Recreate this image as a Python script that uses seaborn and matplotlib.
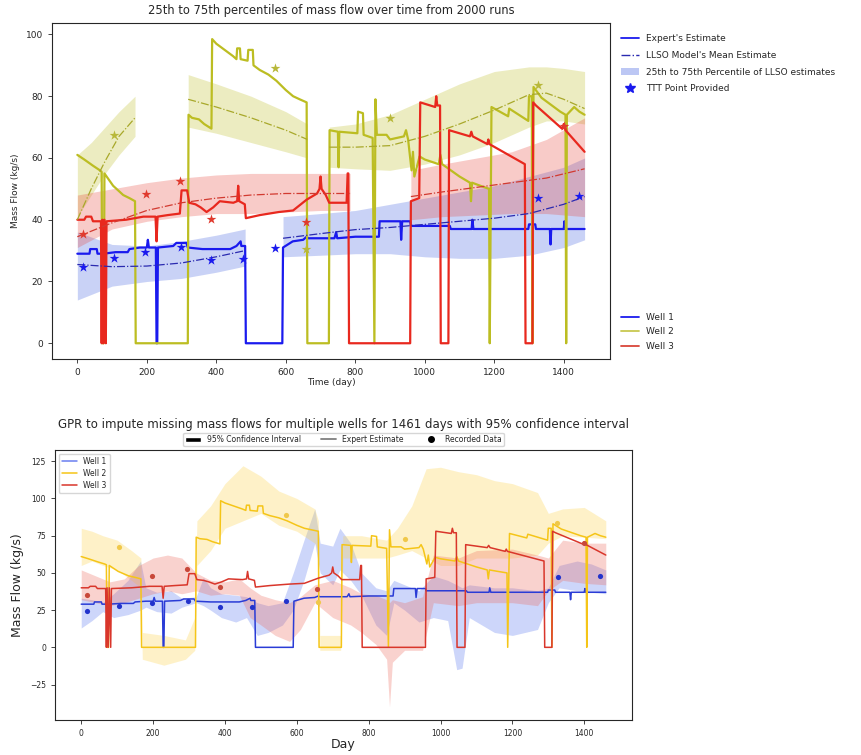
import numpy as np
import pandas as pd
import matplotlib
matplotlib.use("Agg")
import matplotlib.pyplot as plt
import seaborn as sns
from matplotlib.lines import Line2D
from matplotlib.patches import Patch

# --- expert estimate series (day, kg/s) ---
w1_day = [0, 35, 37, 56, 58, 75, 110, 145, 150, 180, 200, 203, 206, 226, 228, 230, 232, 276, 285, 314,
          318, 360, 440, 458, 470, 472, 483, 485, 590, 592, 620, 650, 660, 664, 740, 745, 748, 800, 868,
          870, 930, 932, 935, 958, 960, 1072, 1075, 1135, 1137, 1140, 1298, 1300, 1318, 1320, 1360,
          1362, 1364, 1400, 1402, 1404, 1460]
w1_val = [29, 29, 30.5, 30.5, 29, 29, 29.5, 29.5, 30.5, 31, 31, 33.5, 31, 31, 0, 0, 31, 31.5, 32.5, 32.5,
          31, 30.5, 30.5, 31.5, 33, 31.5, 31.5, 0, 0, 31, 33, 33.5, 34.5, 34, 34, 36, 34, 34.5, 34.5,
          39.5, 39.5, 33.5, 39.5, 39.5, 38, 38, 37, 37, 40, 37, 37, 38.5, 38.5, 37, 37,
          32, 37, 37, 39.5, 37, 37]

w2_day = [0, 20, 45, 65, 70, 72, 76, 78, 103, 132, 150, 166, 168, 318, 320, 330, 350, 365, 386, 388, 400,
          430, 448, 458, 460, 468, 470, 490, 492, 505, 507, 525, 550, 573, 600, 621, 640, 660, 662, 724,
          726, 750, 752, 754, 806, 808, 822, 824, 850, 855, 858, 862, 890, 900, 940, 946, 952, 962, 966,
          970, 985, 1000, 1040, 1045, 1050, 1100, 1130, 1133, 1136, 1160, 1185, 1187, 1192, 1240, 1243,
          1298, 1300, 1308, 1310, 1313, 1336, 1390, 1405, 1407, 1409, 1430, 1445, 1460]
w2_val = [61, 59.5, 57.5, 56, 55.5, 0, 0, 55, 51, 48, 47, 46, 0, 0, 74, 73, 72.5, 71, 69.5, 98.5, 97,
          94.5, 93, 92, 95.5, 95.5, 92, 91.5, 95, 95, 90, 88.5, 87, 85, 82, 80, 79, 78, 0, 0,
          69, 68.5, 57, 68.5, 68, 75, 74.5, 67.5, 66.5, 0, 79, 67.5, 67.5, 66, 67, 69, 66, 56, 62,
          54, 60.5, 59.5, 58, 61, 58, 54, 52, 46, 52, 51, 50, 0, 76.5, 73.5, 76,
          72, 80, 80, 0, 83, 79.5, 75, 74, 0, 74, 76.5, 75, 74]

w3_day = [0, 20, 25, 40, 45, 68, 70, 72, 75, 78, 82, 84, 140, 190, 225, 228, 231, 260, 295, 300, 316,
          322, 340, 355, 372, 391, 410, 449, 460, 463, 466, 482, 485, 525, 580, 621, 660, 690, 697, 700,
          703, 715, 725, 775, 778, 780, 782, 958, 960, 984, 987, 1030, 1033, 1036, 1044, 1046, 1068,
          1070, 1130, 1134, 1138, 1180, 1183, 1186, 1288, 1290, 1310, 1312, 1320, 1395, 1400, 1405, 1460]
w3_val = [40, 40, 41, 41, 39.5, 39.5, 0, 40, 0, 40, 0, 39.5, 40, 41, 41, 33, 41, 41.5, 42, 49.5, 49.5,
          45.5, 45, 44, 42.5, 44, 46, 45.5, 46, 51, 46, 45, 40.5, 41.5, 42.5, 43, 46.5, 48.5, 50, 54,
          50, 48, 45.5, 45.5, 55, 55, 0, 0, 46, 47, 78, 76.5, 80, 77, 77, 0, 0,
          69, 67, 68.5, 67, 64.5, 66, 64.5, 58, 0, 0, 78, 77, 69.5, 71, 69, 62]

# --- TTT / recorded points ---
p1_day = [17, 106, 196, 297, 385, 476, 569, 1326, 1444]
p1_val = [24.7, 27.7, 29.5, 31.2, 27, 27.2, 31, 47, 47.7]
p2_day = [106, 570, 658, 900, 1325]
p2_val = [67.5, 89, 30.5, 73, 83.5]
p3_day = [17, 197, 295, 385, 657, 1400]
p3_val = [35.3, 48.2, 52.7, 40.3, 39.2, 70.4]

# --- LLSO mean and 25th-75th percentile bands, per segment ---
m1a_day = [0, 100, 200, 300, 400, 483]
m1a_mid = [25.5, 24.8, 25.0, 26.0, 28.0, 30.0]
m1a_lo = [14, 18.5, 20, 21, 23, 25]
m1a_hi = [36, 32, 31.5, 33, 35, 37]
m1b_day = [592, 700, 800, 900, 1000, 1100, 1200, 1300, 1400, 1460]
m1b_mid = [34, 35.5, 36.8, 37.5, 38.5, 39.5, 40.5, 42, 45, 47.5]
m1b_lo = [28, 28.5, 29, 29, 28, 27.5, 27.5, 28.5, 31, 33.5]
m1b_hi = [41, 42, 43, 45, 47, 49, 51, 54, 57, 60]

m2a_day = [0, 40, 80, 120, 166]
m2a_mid = [40, 50, 59, 67, 73]
m2a_lo = [41, 48, 55, 61, 67]
m2a_hi = [61, 65, 70, 75, 80]
m2b_day = [319, 400, 500, 600, 662]
m2b_mid = [79, 76.5, 73, 69, 66]
m2b_lo = [70, 68, 65, 62, 60]
m2b_hi = [87, 84, 80, 75, 71]
m2c_day = [725, 800, 900, 1000, 1100, 1200, 1300, 1350, 1400, 1460]
m2c_mid = [63.5, 63.5, 64, 67, 71, 75.5, 80.5, 81, 79, 76]
m2c_lo = [57, 56.5, 56, 58, 61, 65, 70, 72, 72, 71]
m2c_hi = [70, 71, 74, 79, 84, 88, 89.5, 89.5, 89, 88]

m3a_day = [0, 100, 200, 300, 400, 500, 600, 700, 785]
m3a_mid = [34.5, 39, 43, 45.5, 47, 48, 48.5, 48.5, 48.5]
m3a_lo = [31, 37, 39.5, 41, 42, 42, 42.5, 43, 43]
m3a_hi = [48, 50, 52, 53.5, 54.5, 55, 55, 55, 55]
m3b_day = [960, 1050, 1150, 1250, 1350, 1460]
m3b_mid = [47.5, 49, 50.5, 52, 53.5, 56.5]
m3b_lo = [40, 41, 41.5, 42, 42, 41]
m3b_hi = [56, 58, 60, 62, 66, 73]

# --- GPR 95% confidence intervals ---
c1_day = [0, 30, 60, 90, 130, 165, 180, 210, 250, 280, 320, 340, 360, 390, 430, 460, 490, 520, 560,
          590, 620, 650, 665, 700, 720, 750, 780, 820, 850, 870, 900, 940, 980, 1020, 1045, 1060, 1080,
          1150, 1200, 1270, 1300, 1330, 1380, 1420, 1460]
c1_lo = [13, 18, 24, 20, 22, 25, 27, 24, 23, 27, 30, 28, 25, 20, 17, 20, 8, 10, 15,
         25, 45, 70, 50, 42, 52, 45, 35, 15, 8, 30, 25, 17, 20, 18, -15, -14, 20,
         10, 8, 12, 30, 40, 38, 37, 36]
c1_hi = [33, 32, 30, 36, 45, 58, 40, 37, 38, 33, 34, 47, 40, 36, 35, 34, 30, 28, 30,
         50, 72, 93, 70, 68, 80, 70, 50, 40, 38, 45, 42, 38, 48, 45, 42, 40, 42,
         40, 40, 38, 40, 55, 58, 56, 52]

c2_day = [0, 30, 60, 100, 140, 166, 170, 230, 290, 316, 322, 360, 400, 450, 500, 550, 600, 650, 660,
          664, 722, 728, 780, 850, 880, 920, 960, 1000, 1050, 1100, 1150, 1200, 1270, 1300, 1340, 1400, 1460]
c2_lo = [55, 58, 55, 52, 45, 40, -8, -12, -8, -2, 55, 65, 80, 85, 90, 82, 78, 70, 65,
         -2, -2, 60, 60, 60, 62, 65, 60, 55, 55, 60, 60, 60, 62, 70, 75, 74, 73]
c2_hi = [80, 78, 75, 72, 65, 60, 10, 8, 5, 20, 85, 95, 110, 122, 115, 105, 100, 93, 85,
         8, 8, 75, 75, 72, 80, 95, 120, 121, 118, 116, 112, 110, 104, 90, 93, 94, 85]

c3_day = [0, 40, 80, 120, 160, 200, 240, 280, 320, 360, 400, 440, 470, 500, 540, 580, 610, 650, 700,
          750, 780, 820, 850, 858, 866, 900, 950, 980, 1050, 1100, 1200, 1270, 1300, 1340, 1400, 1460]
c3_lo = [32, 30, 28, 30, 33, 36, 38, 36, 38, 35, 36, 35, 20, 15, 8, 4, 12, 30, 20,
         15, 10, 2, -8, -40, -10, -2, -2, 30, 28, 30, 30, 28, 38, 45, 43, 42]
c3_hi = [52, 48, 44, 46, 55, 60, 62, 60, 50, 45, 44, 46, 40, 35, 32, 30, 34, 42, 45,
         40, 36, 35, 32, 30, 32, 30, 34, 62, 60, 65, 66, 62, 60, 72, 70, 70]

wells = ["Well 1", "Well 2", "Well 3"]

sns.set_theme(style="ticks")
plt.rcParams["font.family"] = ["DejaVu Sans"]

fig = plt.figure(figsize=(8.62, 7.55), dpi=100)
ax1 = fig.add_axes([0.0603, 0.5245, 0.6473, 0.4454])
ax2 = fig.add_axes([0.0638, 0.047, 0.6694, 0.357])

# ---------------- top: LLSO percentiles ----------------
top_col = ["#1a1aee", "#bcbd22", "#e8281e"]
mean_col = ["#2a2ab0", "#a8a82a", "#d23a30"]

segs = [
    (0, m1a_day, m1a_mid, m1a_lo, m1a_hi), (0, m1b_day, m1b_mid, m1b_lo, m1b_hi),
    (1, m2a_day, m2a_mid, m2a_lo, m2a_hi), (1, m2b_day, m2b_mid, m2b_lo, m2b_hi),
    (1, m2c_day, m2c_mid, m2c_lo, m2c_hi),
    (2, m3a_day, m3a_mid, m3a_lo, m3a_hi), (2, m3b_day, m3b_mid, m3b_lo, m3b_hi),
]
band_col = ["#4060e0", "#bcbd22", "#e8453a"]
for k, d, mid, lo, hi in segs:
    ax1.fill_between(d, lo, hi, color=band_col[k], alpha=0.28, lw=0)

series = [(w1_day, w1_val), (w2_day, w2_val), (w3_day, w3_val)]
for k, (d, v) in enumerate(series):
    sns.lineplot(x=d, y=v, ax=ax1, sort=False, estimator=None, color=top_col[k], lw=1.6)

for k, d, mid, lo, hi in segs:
    sns.lineplot(x=d, y=mid, ax=ax1, sort=False, estimator=None, color=mean_col[k],
                 lw=0.9, linestyle="-.")

pts = [(p1_day, p1_val), (p2_day, p2_val), (p3_day, p3_val)]
star_col = ["#1a1aee", "#b8b83a", "#e03a2e"]
for k, (d, v) in enumerate(pts):
    ax1.scatter(d, v, marker="*", s=55, color=star_col[k], zorder=5, lw=0)

ax1.set_xlim(-73, 1533)
ax1.set_ylim(-5.1, 103.8)
ax1.set_xticks(range(0, 1401, 200))
ax1.set_yticks(range(0, 101, 20))
ax1.tick_params(labelsize=6.5, length=3, width=0.6)
ax1.set_xlabel("Time (day)", fontsize=6.5, labelpad=1)
ax1.set_ylabel("Mass Flow (kg/s)", fontsize=6.5)
ax1.set_title("25th to 75th percentiles of mass flow over time from 2000 runs", fontsize=8.3)
for s in ax1.spines.values():
    s.set_linewidth(0.8)

h1 = [Line2D([], [], color="#1a1aee", lw=1.3),
      Line2D([], [], color="#2a2ab0", lw=1.0, linestyle="-."),
      Patch(facecolor="#4060e0", alpha=0.35, lw=0),
      Line2D([], [], color="#1a1aee", marker="*", linestyle="none", markersize=7)]
l1 = ["Expert's Estimate", "LLSO Model's Mean Estimate",
      "25th to 75th Percentile of LLSO estimates", "TTT Point Provided"]
leg1 = ax1.legend(h1, l1, loc="upper left", bbox_to_anchor=(1.005, 0.99), frameon=False,
                  fontsize=6.5, labelspacing=0.85, handlelength=2.0)
ax1.add_artist(leg1)
h2 = [Line2D([], [], color="#1a1aee", lw=1.3), Line2D([], [], color="#c8c850", lw=1.3),
      Line2D([], [], color="#d9453a", lw=1.3)]
ax1.legend(h2, wells, loc="lower left", bbox_to_anchor=(1.005, 0.0), frameon=False,
           fontsize=6.5, labelspacing=0.6, handlelength=2.0)

# ---------------- bottom: GPR imputation ----------------
gpr_col = ["#2a3cd6", "#f5c518", "#d9362b"]
ci_col = ["#5a78f0", "#fcd34a", "#ee6a5e"]
ax2.fill_between(c1_day, c1_lo, c1_hi, color=ci_col[0], alpha=0.3, lw=0)
ax2.fill_between(c2_day, c2_lo, c2_hi, color=ci_col[1], alpha=0.3, lw=0)
ax2.fill_between(c3_day, c3_lo, c3_hi, color=ci_col[2], alpha=0.3, lw=0)

for k, (d, v) in enumerate(series):
    sns.lineplot(x=d, y=v, ax=ax2, sort=False, estimator=None, color=gpr_col[k], lw=1.1,
                 label=wells[k])

dot_col = ["#2233cc", "#f0c84a", "#c8483a"]
for k, (d, v) in enumerate(pts):
    ax2.scatter(d, v, marker="o", s=14, color=dot_col[k], zorder=5, lw=0)

ax2.set_xlim(-73, 1533)
ax2.set_ylim(-48.5, 132.6)
ax2.set_xticks(range(0, 1401, 200))
ax2.set_yticks(range(-25, 126, 25))
ax2.tick_params(labelsize=5.5, length=3, width=0.6)
ax2.set_xlabel("Day", fontsize=9, labelpad=0)
ax2.set_ylabel("Mass Flow (kg/s)", fontsize=9)
ax2.set_title("GPR to impute missing mass flows for multiple wells for 1461 days with 95% confidence interval",
              fontsize=8.5, pad=16)
for s in ax2.spines.values():
    s.set_linewidth(0.8)

leg_in = ax2.legend(loc="upper left", fontsize=5.5, frameon=True, labelspacing=0.4,
                    handlelength=2.0, borderpad=0.4)
for ln, c in zip(leg_in.get_lines(), ["#6a7ff0", "#f5c518", "#d9362b"]):
    ln.set_color(c)
ax2.add_artist(leg_in)
h3 = [Patch(facecolor="black"), Line2D([], [], color="gray", lw=1.3),
      Line2D([], [], color="black", marker="o", linestyle="none", markersize=4)]
ax2.legend(h3, ["95% Confidence Interval", "Expert Estimate", "Recorded Data"],
           loc="lower center", bbox_to_anchor=(0.5, 1.0), ncol=3, fontsize=5.5,
           frameon=True, borderpad=0.3, columnspacing=2.6, handlelength=2.0)

fig.savefig("out.png", dpi=100)
